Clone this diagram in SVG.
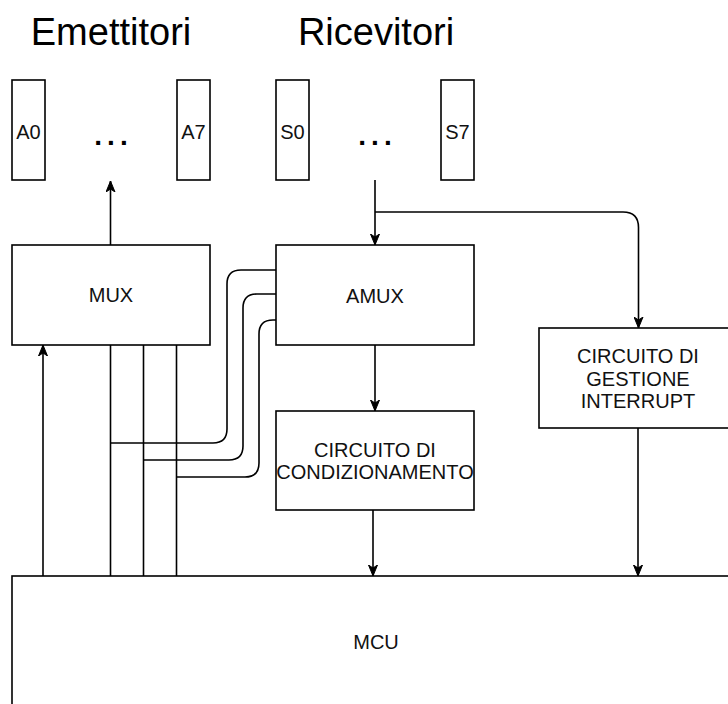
<svg xmlns="http://www.w3.org/2000/svg" width="728" height="704" viewBox="0 0 728 704">
<style>
.box{fill:#fff;stroke:#000;stroke-width:1.6}
.t{font-family:"Liberation Sans",Arial,sans-serif;font-size:20px;fill:#111;text-anchor:middle}
.title{font-family:"Liberation Sans",Arial,sans-serif;font-size:38px;fill:#000;text-anchor:middle}
.dots{font-family:"Liberation Sans",Arial,sans-serif;font-size:28px;font-weight:bold;letter-spacing:5px;fill:#000;text-anchor:middle}
.w{fill:none;stroke:#000;stroke-width:1.6}
.a{fill:none;stroke:#000;stroke-width:1.6;marker-end:url(#arr)}
</style>
<defs>
<marker id="arr" viewBox="0 0 12 10" refX="11" refY="5" markerWidth="12" markerHeight="10" markerUnits="userSpaceOnUse" orient="auto">
<path d="M0,0.5 L11,5 L0,9.5 L3,5 Z" fill="#000" stroke="#000" stroke-width="1"/>
</marker>
</defs>
<rect width="728" height="704" fill="#fff"/>
<g id="titles">
<text class="title" x="111" y="45">Emettitori</text>
<text class="title" x="376" y="45">Ricevitori</text>
</g>
<g id="A0"><rect class="box" x="12" y="80" width="33" height="100"/><text class="t" x="28.5" y="139">A0</text></g>
<g id="dotsA"><text class="dots" x="113.5" y="145">...</text></g>
<g id="A7"><rect class="box" x="177" y="80" width="33" height="100"/><text class="t" x="193.5" y="139">A7</text></g>
<g id="S0"><rect class="box" x="276" y="80" width="33" height="100"/><text class="t" x="292.5" y="139">S0</text></g>
<g id="dotsS"><text class="dots" x="377.5" y="145">...</text></g>
<g id="S7"><rect class="box" x="441" y="80" width="33" height="100"/><text class="t" x="457.5" y="139">S7</text></g>
<g id="MUX"><rect class="box" x="12" y="245" width="198" height="100"/><text class="t" x="111" y="302">MUX</text></g>
<g id="AMUX"><rect class="box" x="276" y="245" width="198" height="100"/><text class="t" x="375" y="303">AMUX</text></g>
<g id="COND"><rect class="box" x="276" y="411" width="198" height="99"/><text class="t" x="375" y="457">CIRCUITO DI</text><text class="t" x="375" y="479">CONDIZIONAMENTO</text></g>
<g id="INT"><rect class="box" x="539" y="328" width="198" height="100"/><text class="t" x="638" y="363">CIRCUITO DI</text><text class="t" x="638" y="385.5">GESTIONE</text><text class="t" x="638" y="408">INTERRUPT</text></g>
<g id="MCU"><rect class="box" x="12" y="576" width="732" height="140"/><text class="t" x="376" y="649">MCU</text></g>
<g id="connectors">
<path class="a" d="M110.5,245 L110.5,181"/>
<path class="a" d="M375,180 L375,245"/>
<path class="a" d="M375,212 L623,212 Q638.5,212 638.5,227.5 L638.5,328"/>
<path class="a" d="M375,345 L375,411"/>
<path class="a" d="M373,510 L373,576"/>
<path class="a" d="M638,428 L638,576"/>
<path class="a" d="M43,576 L43,345"/>
<path class="w" d="M110.5,345 L110.5,576"/>
<path class="w" d="M143.5,345 L143.5,576"/>
<path class="w" d="M176.5,345 L176.5,576"/>
<path class="w" d="M276,270 L241,270 Q227,270 227,284 L227,429 Q227,443 213,443 L110.5,443"/>
<path class="w" d="M276,294 L257,294 Q243,294 243,308 L243,446 Q243,460 229,460 L143.5,460"/>
<path class="w" d="M276,320 L273,320 Q259,320 259,334 L259,463 Q259,477 245,477 L176.5,477"/>
</g>
</svg>
